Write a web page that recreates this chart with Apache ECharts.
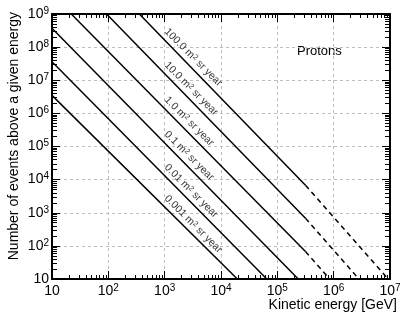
<!DOCTYPE html>
<html><head><meta charset="utf-8">
<script src="https://cdn.jsdelivr.net/npm/echarts@6/dist/echarts.min.js"></script>
<style>html,body{margin:0;padding:0;background:#fff}#c{width:407px;height:319px}</style>
</head><body><div id="c"></div>
<script>
// Exposure of each curve [m^2 sr year]
const exposureLabels = ['100.0', '10.0', '1.0', '0.1', '0.01', '0.001'];
// Solid part: start and end points (kinetic energy [GeV], number of events)
const solidStartE = [355, 93, 22, 10, 10, 10];
const solidStartN = [1e9, 1e9, 1e9, 3.7e8, 3.6e7, 3.5e6];
const solidEndE = [3.16e5, 3.16e5, 3.16e5, 2.35e5, 6.5e4, 1.95e4];
const solidEndN = [6.8e3, 680, 68, 10, 10, 10];
// Dashed continuation (only where it is visible)
const dashedEndE = [9.3e6, 2.8e6, 8.5e5, null, null, null];
const dashedEndN = [10, 10, 10, null, null, null];
// Anchor points of the curve labels
const labelE = [900, 900, 900, 900, 900, 900];
const labelN = [2.5e8, 2.45e7, 2.2e6, 2.0e5, 2.0e4, 2.3e3];
// Axis ranges
const xMin = 10, xMax = 1e7, yMin = 10, yMax = 1e9;

const FONT = "'Liberation Sans', Arial, Helvetica, sans-serif";
const chart = echarts.init(document.getElementById('c'), null, {renderer: 'canvas'});

function powLabel(v) {
  const e = Math.round(Math.log10(v));
  return e === 1 ? '{b|10}' : '{b|10}{s|' + e + '}';
}
const labelRich = {
  b: {fontSize: 14, lineHeight: 16, color: '#000', fontFamily: FONT},
  s: {fontSize: 10, lineHeight: 10, verticalAlign: 'top', color: '#000', fontFamily: FONT}
};

function logAxis(pos, min, max, split, withLabels, withGrid) {
  const vertical = pos === 'left' || pos === 'right';
  return {
    type: 'log', logBase: 10, position: pos, min: min, max: max, splitNumber: split,
    axisLine: {show: true, onZero: false, lineStyle: {color: '#000', width: 2}},
    axisTick: {show: true, inside: true, length: 8, lineStyle: {color: '#000', width: 1}},
    minorTick: {show: true, splitNumber: 9, length: vertical ? 5 : 4, lineStyle: {color: '#000', width: 1}},
    splitLine: {show: withGrid, lineStyle: {color: '#bdbdbd', width: 1, type: [3, 3]}},
    minorSplitLine: {show: false},
    axisLabel: withLabels ? {show: true, formatter: powLabel, rich: labelRich, margin: pos === 'bottom' ? 4 : 3,
      showMinLabel: true, showMaxLabel: true, hideOverlap: false} : {show: false}
  };
}

const series = [];
for (let i = 0; i < exposureLabels.length; i++) {
  series.push({
    type: 'line', xAxisIndex: 0, yAxisIndex: 0, symbol: 'none', silent: true, animation: false,
    lineStyle: {color: '#000', width: 1.5},
    data: [[solidStartE[i], solidStartN[i]], [solidEndE[i], solidEndN[i]]]
  });
  if (dashedEndE[i] !== null) {
    series.push({
      type: 'line', xAxisIndex: 0, yAxisIndex: 0, symbol: 'none', silent: true, animation: false,
      lineStyle: {color: '#000', width: 1.5, type: [5, 4]},
      data: [[solidEndE[i], solidEndN[i]], [dashedEndE[i], dashedEndN[i]]]
    });
  }
}
series.push({
  type: 'scatter', xAxisIndex: 0, yAxisIndex: 0, symbolSize: 0, silent: true, animation: false,
  data: labelE.map((e, i) => ({
    value: [e, labelN[i]],
    label: {
      show: true, position: 'inside', align: 'left', verticalAlign: 'bottom', rotate: -45,
      formatter: exposureLabels[i] + ' m{s|2} sr year',
      color: '#000', fontSize: 10.5, fontFamily: FONT,
      rich: {s: {fontSize: 7.5, lineHeight: 8, verticalAlign: 'top', color: '#000', fontFamily: FONT}}
    }
  }))
});

chart.setOption({
  animation: false,
  backgroundColor: '#fff',
  grid: {left: 52, right: 17, top: 14, bottom: 40, containLabel: false},
  xAxis: [logAxis('bottom', xMin, xMax, 6, true, true), logAxis('top', xMin, xMax, 6, false, false)],
  yAxis: [logAxis('left', yMin, yMax, 8, true, true), logAxis('right', yMin, yMax, 8, false, false)],
  series: series,
  graphic: [
    {type: 'text', x: 14, y: 12, rotation: Math.PI / 2, silent: true,
     style: {text: 'Number of events above a given energy', fill: '#000', font: '14px ' + FONT,
             textAlign: 'right', textVerticalAlign: 'middle'}},
    {type: 'text', x: 397, y: 305, silent: true,
     style: {text: 'Kinetic energy [GeV]', fill: '#000', font: '14px ' + FONT,
             textAlign: 'right', textVerticalAlign: 'middle'}},
    {type: 'text', x: 297, y: 51, silent: true,
     style: {text: 'Protons', fill: '#000', font: '13px ' + FONT,
             textAlign: 'left', textVerticalAlign: 'middle'}}
  ]
});
</script></body></html>
